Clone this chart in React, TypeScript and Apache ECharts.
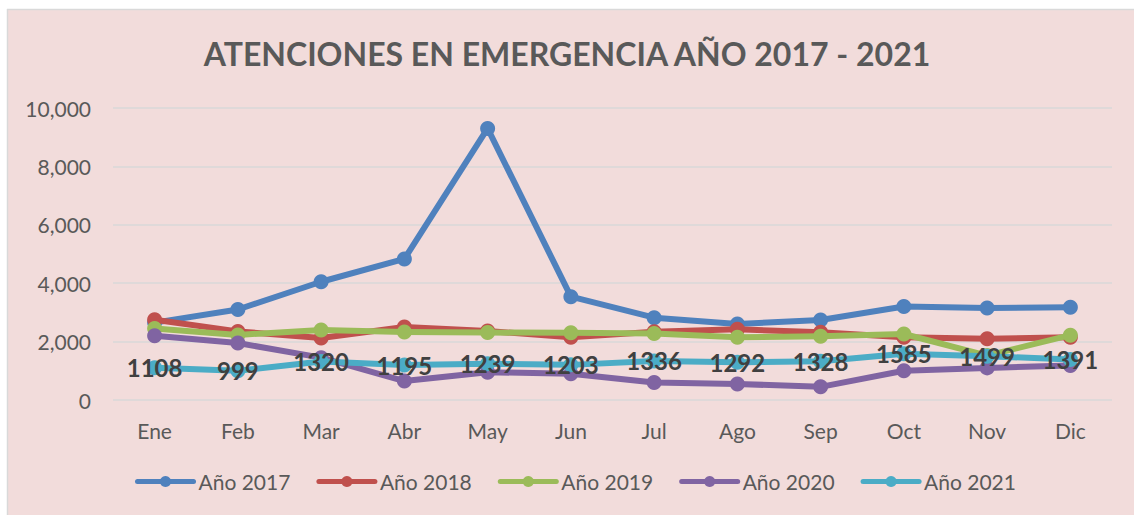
import React, { useEffect, useRef } from "react";
import * as echarts from "echarts";

const months = ["Ene", "Feb", "Mar", "Abr", "May", "Jun", "Jul", "Ago", "Sep", "Oct", "Nov", "Dic"];
const y2017 = [2650, 3100, 4050, 4830, 9300, 3540, 2820, 2600, 2740, 3200, 3150, 3180];
const y2018 = [2750, 2350, 2120, 2500, 2360, 2150, 2340, 2420, 2320, 2150, 2100, 2150];
const y2019 = [2450, 2230, 2400, 2330, 2310, 2300, 2280, 2150, 2180, 2260, 1520, 2220];
const y2020 = [2200, 1950, 1450, 650, 950, 900, 600, 550, 450, 1000, 1100, 1180];
const y2021 = [1108, 999, 1320, 1195, 1239, 1203, 1336, 1292, 1328, 1585, 1499, 1391];
const seriesNames = ["Año 2017", "Año 2018", "Año 2019", "Año 2020", "Año 2021"];
const seriesColors = ["#4F81BD", "#C0504D", "#9BBB59", "#8064A2", "#4BACC6"];
const titleText = "ATENCIONES EN EMERGENCIA AÑO 2017 - 2021";

export default function App() {
  const ref = useRef<HTMLDivElement>(null);
  useEffect(() => {
    if (!ref.current) return;
    const chart = echarts.init(ref.current, null, { renderer: "svg" });
    const data = [y2017, y2018, y2019, y2020, y2021];
    const font = "Lato, 'Open Sans', sans-serif";
    chart.setOption({
      animation: false,
      backgroundColor: "#F2DCDB",
      textStyle: { fontFamily: font },
      title: {
        text: titleText,
        left: "center",
        top: 32,
        textStyle: { fontSize: 32, fontWeight: "bold", color: "#595959", fontFamily: font },
      },
      graphic: [
        { type: "rect", shape: { x: 0, y: 0, width: 1134, height: 9 }, style: { fill: "#ffffff" }, silent: true },
        { type: "rect", shape: { x: 0, y: 0, width: 7, height: 515 }, style: { fill: "#ffffff" }, silent: true },
        { type: "line", shape: { x1: 7, y1: 9.5, x2: 1134, y2: 9.5 }, style: { stroke: "#D9D9D9", lineWidth: 1.5 }, silent: true },
        { type: "line", shape: { x1: 7.5, y1: 9, x2: 7.5, y2: 515 }, style: { stroke: "#D9D9D9", lineWidth: 1.5 }, silent: true },
      ],
      legend: {
        bottom: 18,
        left: 130,
        itemWidth: 56,
        itemHeight: 14,
        itemGap: 26,
        lineStyle: { width: 5, cap: "round" },
        textStyle: { fontSize: 21, color: "#595959", fontFamily: font },
        data: seriesNames,
      },
      grid: { left: 113, right: 22, top: 108, bottom: 115, containLabel: false },
      xAxis: {
        type: "category",
        data: months,
        boundaryGap: true,
        axisLine: { show: false },
        axisTick: { show: false },
        axisLabel: { fontSize: 21, color: "#595959", margin: 20, fontFamily: font },
      },
      yAxis: {
        type: "value",
        min: 0,
        max: 10000,
        interval: 2000,
        axisLine: { show: false },
        axisTick: { show: false },
        axisLabel: {
          fontSize: 21,
          color: "#595959",
          margin: 22,
          fontFamily: font,
          formatter: (v: number) => v.toLocaleString("en-US"),
        },
        splitLine: { lineStyle: { color: "#D9D9D9", width: 1.5 } },
      },
      series: data.map((d, i) => ({
        name: seriesNames[i],
        type: "line",
        data: d,
        symbol: "circle",
        symbolSize: 15,
        color: seriesColors[i],
        lineStyle: { width: 6, color: seriesColors[i], cap: "round", join: "round" },
        itemStyle: { color: seriesColors[i] },
        z: 2 + i,
        label:
          i === 4
            ? {
                show: true,
                position: "inside",
                fontSize: 24,
                fontWeight: "bold",
                color: "#404040",
                fontFamily: font,
              }
            : { show: false },
      })),
    });
    return () => chart.dispose();
  }, []);
  return (
    <div
      ref={ref}
      style={{ position: "absolute", left: 0, top: 0, width: 1134, height: 515 }}
    />
  );
}
